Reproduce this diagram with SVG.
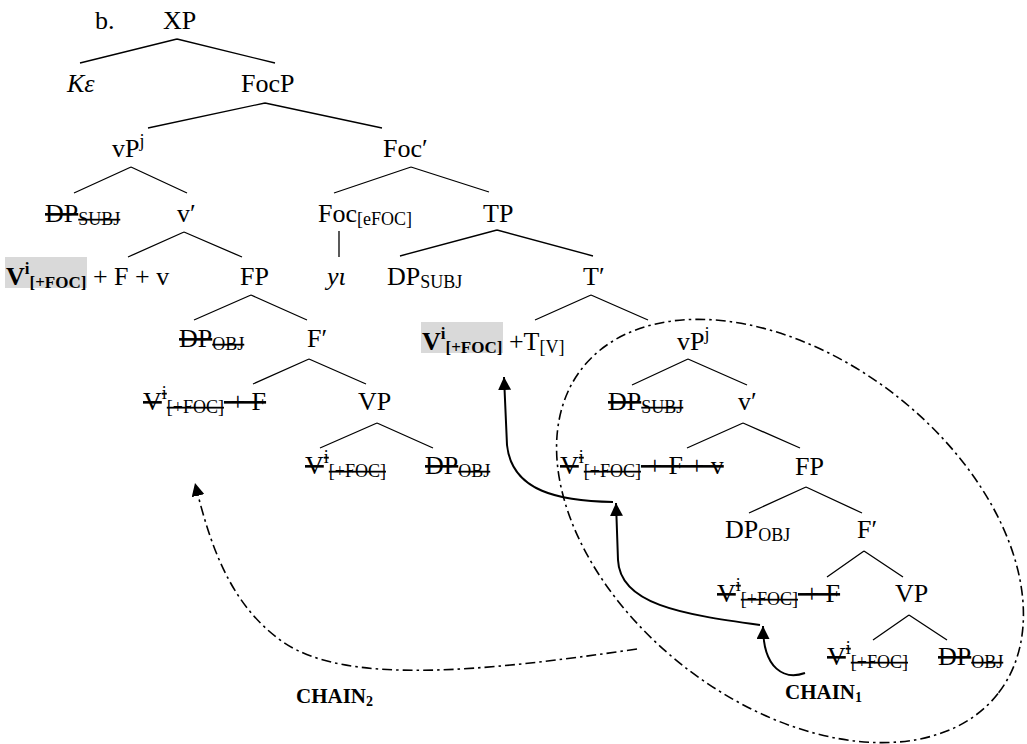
<svg xmlns="http://www.w3.org/2000/svg" width="1027" height="744" viewBox="0 0 1027 744">
<style>
.t{font-family:"Liberation Serif","Times New Roman",serif;font-size:26px;fill:#000;white-space:pre}
.i{font-style:italic}
.sb{font-size:18px}
.bd{font-weight:bold}
.bsb{font-size:17px;font-weight:bold}
.s{text-decoration:line-through;text-decoration-thickness:1.8px}
.hl{fill:#d9d9d9}
.br{stroke:#000;stroke-width:1.3;fill:none}
.ch{stroke:#000;stroke-width:2;fill:none;marker-end:url(#ah)}
.dd{stroke:#000;stroke-width:1.6;fill:none;stroke-dasharray:10 4 2.5 4}
.lbl{font-family:"Liberation Serif","Times New Roman",serif;font-size:21px;font-weight:bold;fill:#000}
</style>
<defs>
<marker id="ah" markerUnits="userSpaceOnUse" markerWidth="14" markerHeight="13" refX="13" refY="6.5" orient="auto" viewBox="0 0 14 13"><path d="M0,0 L13,6.5 L0,13 z" fill="#000"/></marker>
</defs>
<rect width="1027" height="744" fill="#fff"/>
<g id="connectors">
<path class="br" d="M177,39 L80,63 M177,39 L275,63"/>
<path class="br" d="M265,103 L148,128 M265,103 L382,128"/>
<path class="br" d="M131,167 L74,193 M131,167 L187,193"/>
<path class="br" d="M411,167 L334,193 M411,167 L489,192"/>
<path class="br" d="M184,232 L128,257 M184,232 L242,257"/>
<path class="br" d="M339,231 L339,257"/>
<path class="br" d="M497,230 L400,256 M497,230 L593,256"/>
<path class="br" d="M251,295 L194,320 M251,295 L307,320"/>
<path class="br" d="M591,295 L535,320 M591,295 L648,320"/>
<path class="br" d="M309,359 L253,384 M309,359 L366,384"/>
<path class="br" d="M688,359 L632,385 M688,359 L747,385"/>
<path class="br" d="M377,423 L320,448 M377,423 L433,448"/>
<path class="br" d="M743,423 L687,448 M743,423 L800,448"/>
<path class="br" d="M806,487 L749,513 M806,487 L862,513"/>
<path class="br" d="M864,551 L827,577 M864,551 L903,577"/>
<path class="br" d="M909,615 L873,640 M909,615 L947,640"/>
<path class="ch" d="M805,673 C785,680 763,670 763,626"/>
<path class="ch" d="M760,625 C680,614 620,604 618,560 L616,503"/>
<path class="ch" d="M613,502 C560,501 512,492 507,445 L504,377"/>
<path class="dd" marker-end="url(#ah)" d="M637,649 C480,672 345,685 283,642 C230,605 210,545 195,483"/>
</g>
<g id="domain-ellipse">
<ellipse class="dd" cx="790" cy="531" rx="264" ry="172" transform="rotate(38 790 531)"/>
</g>
<g id="n-b"><text class="t" x="95" y="29">b.</text></g>
<g id="n-XP"><text class="t" x="163" y="29">XP</text></g>
<g id="n-Ke"><text class="t i" x="67" y="92">Kε</text></g>
<g id="n-FocP"><text class="t" x="241" y="92">FocP</text></g>
<g id="n-vP1"><text class="t" x="112" y="157">vP<tspan class="sb" dy="-10">j</tspan></text></g>
<g id="n-FocBar"><text class="t" x="383" y="157">Foc′</text></g>
<g id="n-DPsubj1"><text class="t" x="45" y="222"><tspan class="s">DP</tspan><tspan class="sb s" dy="3">SUBJ</tspan></text></g>
<g id="n-vBar1"><text class="t" x="177" y="222">v′</text></g>
<g id="n-Foc"><text class="t" x="318" y="222">Foc<tspan class="sb" dy="3">[eFOC]</tspan></text></g>
<g id="n-TP"><text class="t" x="483" y="222">TP</text></g>
<g id="n-Vhead1"><rect class="hl" x="5" y="257" width="82" height="31"/><text class="t" x="6" y="285"><tspan class="bd">V</tspan><tspan class="bsb" dy="-11">i</tspan><tspan class="bsb" dy="14">[+FOC]</tspan><tspan dy="-3"> + F + v</tspan></text></g>
<g id="n-FP1"><text class="t" x="240" y="285">FP</text></g>
<g id="n-yi"><text class="t i" x="327" y="285">yι</text></g>
<g id="n-DPsubj2"><text class="t" x="387" y="285">DP<tspan class="sb" dy="3">SUBJ</tspan></text></g>
<g id="n-TBar"><text class="t" x="583" y="285">T′</text></g>
<g id="n-DPobj1"><text class="t" x="179" y="347"><tspan class="s">DP</tspan><tspan class="sb s" dy="3">OBJ</tspan></text></g>
<g id="n-FBar1"><text class="t" x="307" y="347">F′</text></g>
<g id="n-Vhead2"><rect class="hl" x="421" y="322" width="82" height="31"/><text class="t" x="422" y="350"><tspan class="bd">V</tspan><tspan class="bsb" dy="-11">i</tspan><tspan class="bsb" dy="14">[+FOC]</tspan><tspan dy="-3"> +T</tspan><tspan class="sb" dy="3">[V]</tspan></text></g>
<g id="n-vP2"><text class="t" x="677" y="350">vP<tspan class="sb" dy="-10">j</tspan></text></g>
<g id="n-VF1"><text class="t" x="143" y="410"><tspan class="s">V</tspan><tspan class="sb s" dy="-11">i</tspan><tspan class="sb s" dy="14">[+FOC]</tspan><tspan class="s" dy="-3"> + F</tspan></text></g>
<g id="n-VP1"><text class="t" x="358" y="410">VP</text></g>
<g id="n-DPsubj3"><text class="t" x="608" y="410"><tspan class="s">DP</tspan><tspan class="sb s" dy="3">SUBJ</tspan></text></g>
<g id="n-vBar2"><text class="t" x="738" y="410">v′</text></g>
<g id="n-V1"><text class="t" x="305" y="474"><tspan class="s">V</tspan><tspan class="sb s" dy="-11">i</tspan><tspan class="sb s" dy="14">[+FOC]</tspan></text></g>
<g id="n-DPobj2"><text class="t" x="425" y="474"><tspan class="s">DP</tspan><tspan class="sb s" dy="3">OBJ</tspan></text></g>
<g id="n-VFv"><text class="t" x="560" y="474"><tspan class="s">V</tspan><tspan class="sb s" dy="-11">i</tspan><tspan class="sb s" dy="14">[+FOC]</tspan><tspan class="s" dy="-3"> + F + v</tspan></text></g>
<g id="n-FP2"><text class="t" x="795" y="475">FP</text></g>
<g id="n-DPobj3"><text class="t" x="725" y="538">DP<tspan class="sb" dy="3">OBJ</tspan></text></g>
<g id="n-FBar2"><text class="t" x="857" y="538">F′</text></g>
<g id="n-VF2"><text class="t" x="717" y="602"><tspan class="s">V</tspan><tspan class="sb s" dy="-11">i</tspan><tspan class="sb s" dy="14">[+FOC]</tspan><tspan class="s" dy="-3"> + F</tspan></text></g>
<g id="n-VP2"><text class="t" x="895" y="602">VP</text></g>
<g id="n-V2"><text class="t" x="827" y="665"><tspan class="s">V</tspan><tspan class="sb s" dy="-11">i</tspan><tspan class="sb s" dy="14">[+FOC]</tspan></text></g>
<g id="n-DPobj4"><text class="t" x="938" y="665"><tspan class="s">DP</tspan><tspan class="sb s" dy="3">OBJ</tspan></text></g>
<g id="n-chain1"><text class="lbl" x="785" y="699">CHAIN<tspan font-size="14" dy="3">1</tspan></text></g>
<g id="n-chain2"><text class="lbl" x="296" y="703">CHAIN<tspan font-size="14" dy="3">2</tspan></text></g>
</svg>
